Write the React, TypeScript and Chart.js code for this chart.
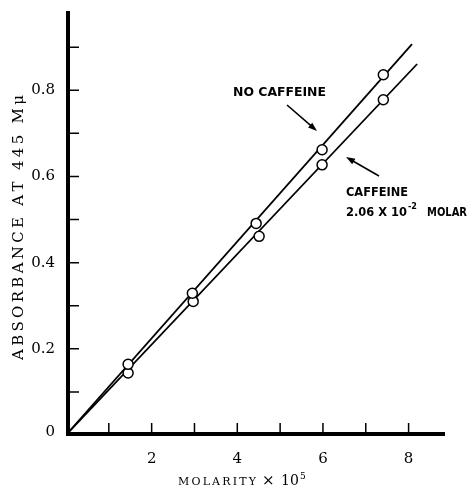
import React, { useEffect, useRef } from "react";
import { Chart, registerables } from "chart.js";

Chart.register(...registerables);

// ---- data ----
const noCaffeineX = [1.45, 2.95, 4.44, 5.98, 7.41];
const noCaffeineY = [0.164, 0.329, 0.491, 0.662, 0.836];
const caffeineX = [1.45, 2.97, 4.51, 5.98, 7.41];
const caffeineY = [0.144, 0.31, 0.461, 0.627, 0.778];
// fitted straight lines through the origin
const noCaffeineLineX = [0, 8.08];
const noCaffeineLineY = [0, 0.907];
const caffeineLineX = [0, 8.2];
const caffeineLineY = [0, 0.861];
// axes
const xMin = 0;
const xMax = 8.85;
const yMin = 0;
const yMax = 0.984;
const xTickMarks = [1, 2, 3, 4, 5, 6, 7, 8];
const xTickLabels = [2, 4, 6, 8];
const yTickMarks = [0.1, 0.2, 0.3, 0.4, 0.5, 0.6, 0.7, 0.8, 0.9];
const yTickLabels = [0, 0.2, 0.4, 0.6, 0.8];
const yTitle = "ABSORBANCE AT 445 M\u03bc";
const xTitleWord = "MOLARITY";
const label1 = "NO CAFFEINE";
const label2a = "CAFFEINE";

const toPts = (xs: number[], ys: number[]) => xs.map((x, i) => ({ x, y: ys[i] }));

function fitText(ctx: CanvasRenderingContext2D, text: string, x: number, y: number, width: number) {
  const w = ctx.measureText(text).width;
  ctx.save();
  ctx.translate(x, y);
  ctx.scale(width / w, 1);
  ctx.fillText(text, 0, 0);
  ctx.restore();
}

function spacedText(ctx: CanvasRenderingContext2D, text: string, x: number, y: number, total: number) {
  const chars = text.split("");
  const widths = chars.map((c) => ctx.measureText(c).width);
  const natural = widths.reduce((a, b) => a + b, 0);
  const gap = (total - natural) / (chars.length - 1);
  let cx = x;
  chars.forEach((c, i) => {
    ctx.fillText(c, cx, y);
    cx += widths[i] + gap;
  });
}

function arrow(ctx: CanvasRenderingContext2D, x1: number, y1: number, x2: number, y2: number) {
  const ang = Math.atan2(y2 - y1, x2 - x1);
  const L = 9, W = 3.2;
  ctx.beginPath();
  ctx.moveTo(x1, y1);
  ctx.lineTo(x2 - L * 0.6 * Math.cos(ang), y2 - L * 0.6 * Math.sin(ang));
  ctx.lineWidth = 1.6;
  ctx.stroke();
  ctx.beginPath();
  ctx.moveTo(x2, y2);
  ctx.lineTo(x2 - L * Math.cos(ang) + W * Math.sin(ang), y2 - L * Math.sin(ang) - W * Math.cos(ang));
  ctx.lineTo(x2 - L * Math.cos(ang) - W * Math.sin(ang), y2 - L * Math.sin(ang) + W * Math.cos(ang));
  ctx.closePath();
  ctx.fill();
}

const paperAxes = {
  id: "paperAxes",
  afterDatasetsDraw(chart: any) {
    const ctx: CanvasRenderingContext2D = chart.ctx;
    const xs = chart.scales.x;
    const ys = chart.scales.y;
    const x0 = xs.getPixelForValue(xMin);
    const y0 = ys.getPixelForValue(yMin);
    const xE = xs.getPixelForValue(xMax);
    const yT = ys.getPixelForValue(yMax);
    ctx.save();
    ctx.strokeStyle = "#000";
    ctx.fillStyle = "#000";
    // axis lines
    ctx.lineWidth = 4;
    ctx.beginPath();
    ctx.moveTo(x0 + 2, yT);
    ctx.lineTo(x0 + 2, y0 + 1);
    ctx.moveTo(x0, y0 - 1);
    ctx.lineTo(xE, y0 - 1);
    ctx.stroke();
    // inward ticks
    ctx.lineWidth = 1.5;
    ctx.beginPath();
    yTickMarks.forEach((v) => {
      const py = ys.getPixelForValue(v);
      ctx.moveTo(x0 + 3, py);
      ctx.lineTo(x0 + 13, py);
    });
    xTickMarks.forEach((v) => {
      const px = xs.getPixelForValue(v);
      ctx.moveTo(px, y0 - 2);
      ctx.lineTo(px, y0 - 12);
    });
    ctx.stroke();
    // tick labels
    ctx.font = "15px 'DejaVu Serif'";
    ctx.textBaseline = "middle";
    ctx.textAlign = "right";
    yTickLabels.forEach((v) => {
      const py = ys.getPixelForValue(v);
      ctx.fillText(v === 0 ? "0" : v.toFixed(1), x0 - 11, v === 0 ? py - 3 : py);
    });
    ctx.textAlign = "center";
    xTickLabels.forEach((v) => {
      const px = xs.getPixelForValue(v);
      ctx.fillText(String(v), px, y0 + 24);
    });
    // y title (rotated)
    ctx.save();
    ctx.translate(19, 360);
    ctx.rotate(-Math.PI / 2);
    ctx.textAlign = "left";
    ctx.font = "15px 'DejaVu Serif'";
    spacedText(ctx, yTitle, 0, 0, 265);
    ctx.restore();
    // x title
    ctx.textAlign = "left";
    ctx.textBaseline = "alphabetic";
    ctx.font = "11px 'DejaVu Serif'";
    spacedText(ctx, xTitleWord, 178, 485, 78);
    ctx.font = "15px 'DejaVu Serif'";
    ctx.fillText("\u00d7", 262, 485);
    ctx.font = "14px 'DejaVu Serif'";
    ctx.fillText("10", 281, 485);
    ctx.font = "9px 'DejaVu Serif'";
    ctx.fillText("5", 300, 479);
    // annotations
    ctx.textBaseline = "middle";
    ctx.textAlign = "left";
    ctx.font = "bold 12px 'DejaVu Sans'";
    fitText(ctx, label1, 233, 93, 93);
    fitText(ctx, label2a, 346, 193, 62);
    fitText(ctx, "2.06 X 10", 346, 213, 61);
    ctx.font = "bold 8px 'DejaVu Sans'";
    fitText(ctx, "-2", 408, 207, 9);
    ctx.font = "bold 12px 'DejaVu Sans'";
    fitText(ctx, "MOLAR", 427, 213, 40);
    arrow(ctx, 287, 105, 317, 131);
    arrow(ctx, 379, 176, 346, 157);
    ctx.restore();
  },
};

export default function App() {
  const ref = useRef<HTMLCanvasElement | null>(null);
  useEffect(() => {
    document.body.style.margin = "0";
    const canvas = ref.current!;
    const pointStyle = {
      showLine: false,
      pointRadius: 5,
      pointHoverRadius: 5,
      pointBackgroundColor: "#fff",
      pointBorderColor: "#000",
      pointBorderWidth: 1.5,
      order: 0,
    };
    const lineStyle = {
      showLine: true,
      borderColor: "#000",
      borderWidth: 1.8,
      pointRadius: 0,
      order: 1,
    };
    const chart = new Chart(canvas, {
      type: "scatter",
      data: {
        datasets: [
          { label: "No caffeine", data: toPts(noCaffeineX, noCaffeineY), ...pointStyle },
          { label: "Caffeine 2.06e-2 M", data: toPts(caffeineX, caffeineY), ...pointStyle },
          { label: "No caffeine fit", data: toPts(noCaffeineLineX, noCaffeineLineY), ...lineStyle },
          { label: "Caffeine fit", data: toPts(caffeineLineX, caffeineLineY), ...lineStyle },
        ],
      },
      options: {
        animation: false,
        responsive: false,
        devicePixelRatio: 1,
        layout: { padding: { left: 66, right: 27, top: 11, bottom: 53 } },
        plugins: { legend: { display: false }, tooltip: { enabled: false } },
        scales: {
          x: { type: "linear", min: xMin, max: xMax, display: false },
          y: { type: "linear", min: yMin, max: yMax, display: false },
        },
        events: [],
      },
      plugins: [paperAxes],
    } as any);
    return () => chart.destroy();
  }, []);
  return (
    <div style={{ position: "absolute", left: 0, top: 0, width: 472, height: 488, background: "#fff" }}>
      <canvas ref={ref} width={472} height={488} />
    </div>
  );
}
